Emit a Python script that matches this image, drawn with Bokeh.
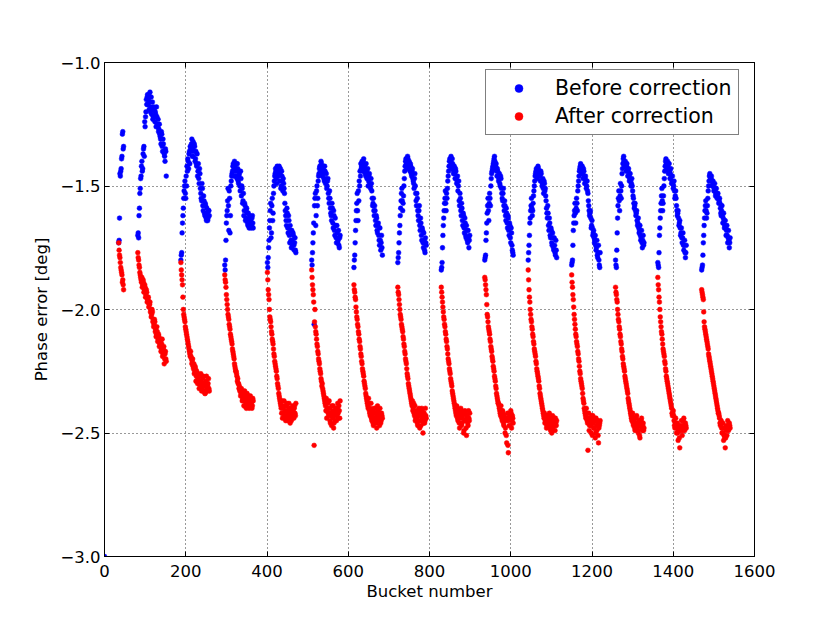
from bokeh.plotting import figure
from bokeh.models import (Range1d, FixedTicker, LinearAxis, CustomJSTickFormatter,
                          Legend, LegendItem, ColumnDataSource)
from bokeh.embed import file_html
from bokeh.resources import INLINE

# ---------------- data ----------------
x_ticks = [0, 200, 400, 600, 800, 1000, 1200, 1400, 1600]
y_ticks = [-3.0, -2.5, -2.0, -1.5, -1.0]

bunch_spacing = 2  # buckets between bunches of the same (even / odd) set
train_starts = [35, 82, 188, 296, 401, 510, 614, 722, 829, 936, 1043, 1150, 1258, 1362, 1470]

# even-numbered bunches of each train
before_T1 = [-1.73, -1.63, -1.46, -1.43, -1.38, -1.28, -1.34]
after_T1 = [-1.73, -1.78, -1.81, -1.84, -1.86, -1.88, -1.92]
before_T2 = [-1.70, -1.71, -1.59, -1.51, -1.46, -1.40, -1.43, -1.35, -1.38, -1.26, -1.20, -1.17, -1.13, -1.15, -1.19, -1.12, -1.18, -1.21, -1.16, -1.22, -1.19, -1.24, -1.21, -1.18, -1.25, -1.23, -1.27, -1.29, -1.31, -1.28, -1.34, -1.31, -1.36, -1.38, -1.35, -1.46]
after_T2 = [-1.77, -1.80, -1.83, -1.86, -1.88, -1.87, -1.90, -1.89, -1.92, -1.91, -1.94, -1.93, -1.96, -1.95, -1.98, -1.97, -2.00, -2.02, -2.01, -2.04, -2.06, -2.05, -2.08, -2.10, -2.09, -2.12, -2.11, -2.14, -2.13, -2.16, -2.12, -2.18, -2.15, -2.20, -2.17, -2.21]
before_T3 = [-1.80, -1.77, -1.65, -1.59, -1.52, -1.48, -1.55, -1.50, -1.44, -1.40, -1.37, -1.41, -1.35, -1.33, -1.38, -1.32, -1.36, -1.34, -1.39, -1.41, -1.37, -1.44, -1.47, -1.43, -1.51, -1.55, -1.49, -1.58, -1.54, -1.61, -1.57, -1.63, -1.59, -1.64, -1.60, -1.62]
after_T3 = [-1.81, -1.86, -1.90, -2.00, -2.03, -2.05, -2.08, -2.10, -2.12, -2.14, -2.16, -2.18, -2.17, -2.20, -2.21, -2.23, -2.22, -2.25, -2.24, -2.27, -2.26, -2.28, -2.30, -2.27, -2.31, -2.29, -2.32, -2.28, -2.33, -2.30, -2.34, -2.29, -2.32, -2.31, -2.28, -2.33]
before_T4 = [-1.82, -1.80, -1.65, -1.60, -1.51, -1.68, -1.55, -1.62, -1.48, -1.45, -1.42, -1.46, -1.40, -1.44, -1.41, -1.47, -1.43, -1.49, -1.45, -1.52, -1.47, -1.50, -1.57, -1.53, -1.60, -1.58, -1.63, -1.59, -1.65, -1.61, -1.67, -1.63, -1.64, -1.66, -1.62, -1.67]
after_T4 = [-1.86, -1.89, -1.94, -1.98, -2.02, -2.04, -2.07, -2.10, -2.12, -2.14, -2.17, -2.19, -2.22, -2.24, -2.25, -2.27, -2.28, -2.30, -2.31, -2.32, -2.34, -2.33, -2.36, -2.34, -2.37, -2.35, -2.38, -2.36, -2.39, -2.35, -2.40, -2.37, -2.38, -2.36, -2.39, -2.37]
before_T5 = [-1.81, -1.79, -1.72, -1.64, -1.57, -1.69, -1.55, -1.61, -1.50, -1.46, -1.43, -1.47, -1.42, -1.45, -1.44, -1.48, -1.43, -1.50, -1.46, -1.52, -1.49, -1.53, -1.60, -1.64, -1.59, -1.67, -1.62, -1.70, -1.66, -1.72, -1.68, -1.74, -1.70, -1.76, -1.71, -1.77]
after_T5 = [-1.85, -1.92, -1.96, -2.03, -2.05, -2.09, -2.12, -2.14, -2.18, -2.21, -2.23, -2.25, -2.28, -2.31, -2.34, -2.36, -2.38, -2.40, -2.37, -2.42, -2.39, -2.44, -2.41, -2.43, -2.38, -2.45, -2.42, -2.40, -2.46, -2.41, -2.44, -2.39, -2.43, -2.40, -2.42, -2.38]
before_T6 = [-1.80, -1.77, -1.69, -2.06, -1.55, -1.66, -1.52, -1.58, -1.48, -1.45, -1.42, -1.44, -1.41, -1.46, -1.43, -1.47, -1.42, -1.49, -1.45, -1.50, -1.47, -1.55, -1.52, -1.59, -1.62, -1.57, -1.65, -1.60, -1.68, -1.63, -1.71, -1.66, -1.73, -1.68, -1.75, -1.70]
after_T6 = [-1.84, -1.90, -1.94, -2.55, -2.00, -2.09, -2.12, -2.15, -2.18, -2.21, -2.24, -2.26, -2.29, -2.30, -2.33, -2.35, -2.37, -2.39, -2.36, -2.41, -2.38, -2.43, -2.40, -2.46, -2.42, -2.39, -2.44, -2.48, -2.41, -2.45, -2.40, -2.43, -2.38, -2.44, -2.41, -2.37]
before_T7 = [-1.83, -1.78, -1.68, -1.60, -1.53, -1.64, -1.56, -1.50, -1.46, -1.43, -1.40, -1.44, -1.39, -1.42, -1.45, -1.41, -1.47, -1.43, -1.48, -1.45, -1.50, -1.47, -1.52, -1.58, -1.55, -1.62, -1.60, -1.66, -1.63, -1.69, -1.65, -1.72, -1.67, -1.76, -1.70, -1.78]
after_T7 = [-1.90, -1.93, -1.96, -2.01, -2.04, -2.07, -2.10, -2.13, -2.16, -2.19, -2.22, -2.25, -2.27, -2.30, -2.32, -2.35, -2.37, -2.39, -2.36, -2.41, -2.43, -2.38, -2.45, -2.41, -2.47, -2.40, -2.44, -2.42, -2.48, -2.39, -2.45, -2.43, -2.40, -2.46, -2.42, -2.44]
before_T8 = [-1.81, -1.77, -1.69, -1.62, -1.56, -1.51, -1.60, -1.54, -1.47, -1.42, -1.39, -1.43, -1.38, -1.41, -1.40, -1.44, -1.42, -1.46, -1.43, -1.48, -1.51, -1.45, -1.53, -1.58, -1.55, -1.62, -1.60, -1.66, -1.63, -1.70, -1.67, -1.73, -1.69, -1.76, -1.71, -1.74]
after_T8 = [-1.91, -1.94, -1.98, -2.02, -2.04, -2.07, -2.09, -2.12, -2.15, -2.18, -2.21, -2.24, -2.27, -2.30, -2.32, -2.34, -2.36, -2.38, -2.37, -2.40, -2.42, -2.39, -2.44, -2.41, -2.46, -2.43, -2.40, -2.48, -2.42, -2.45, -2.41, -2.50, -2.43, -2.46, -2.40, -2.44]
before_T9 = [-1.84, -1.81, -1.70, -1.63, -1.57, -1.52, -1.60, -1.55, -1.48, -1.44, -1.40, -1.42, -1.38, -1.43, -1.41, -1.45, -1.42, -1.47, -1.44, -1.49, -1.46, -1.50, -1.56, -1.53, -1.60, -1.57, -1.64, -1.61, -1.67, -1.63, -1.70, -1.66, -1.72, -1.68, -1.75, -1.70]
after_T9 = [-1.91, -1.95, -1.99, -2.03, -2.06, -2.09, -2.12, -2.15, -2.18, -2.21, -2.24, -2.26, -2.29, -2.31, -2.34, -2.36, -2.38, -2.40, -2.42, -2.39, -2.44, -2.41, -2.46, -2.43, -2.40, -2.47, -2.44, -2.42, -2.49, -2.41, -2.45, -2.51, -2.43, -2.47, -2.44, -2.42]
before_T10 = [-1.80, -1.78, -1.69, -1.61, -1.55, -1.64, -1.53, -1.58, -1.47, -1.44, -1.42, -1.40, -1.38, -1.43, -1.41, -1.46, -1.44, -1.48, -1.45, -1.50, -1.47, -1.53, -1.56, -1.51, -1.60, -1.58, -1.64, -1.61, -1.67, -1.63, -1.70, -1.66, -1.73, -1.69, -1.76, -1.78]
after_T10 = [-1.87, -1.90, -1.94, -2.02, -2.05, -2.08, -2.10, -2.13, -2.16, -2.19, -2.21, -2.24, -2.27, -2.29, -2.32, -2.35, -2.37, -2.38, -2.40, -2.42, -2.39, -2.44, -2.41, -2.46, -2.43, -2.50, -2.45, -2.54, -2.42, -2.58, -2.47, -2.44, -2.41, -2.48, -2.43, -2.46]
before_T11 = [-1.80, -1.74, -1.65, -1.60, -1.55, -1.62, -1.57, -1.52, -1.48, -1.45, -1.43, -1.47, -1.42, -1.46, -1.44, -1.48, -1.45, -1.50, -1.47, -1.53, -1.49, -1.51, -1.56, -1.61, -1.58, -1.66, -1.63, -1.70, -1.67, -1.73, -1.69, -1.75, -1.71, -1.77, -1.72, -1.79]
after_T11 = [-1.84, -1.92, -1.97, -2.02, -2.05, -2.08, -2.11, -2.14, -2.17, -2.19, -2.22, -2.25, -2.27, -2.29, -2.32, -2.35, -2.37, -2.39, -2.41, -2.43, -2.42, -2.45, -2.43, -2.47, -2.44, -2.46, -2.42, -2.48, -2.45, -2.50, -2.43, -2.47, -2.44, -2.49, -2.46, -2.45]
before_T12 = [-1.82, -1.80, -1.68, -1.62, -1.57, -1.65, -1.55, -1.60, -1.50, -1.46, -1.43, -1.41, -1.45, -1.42, -1.47, -1.44, -1.49, -1.46, -1.51, -1.48, -1.53, -1.58, -1.62, -1.60, -1.67, -1.64, -1.70, -1.68, -1.73, -1.70, -1.76, -1.72, -1.79, -1.74, -1.82, -1.77]
after_T12 = [-1.86, -1.91, -1.96, -2.02, -2.06, -2.10, -2.13, -2.15, -2.18, -2.21, -2.25, -2.28, -2.30, -2.32, -2.36, -2.38, -2.41, -2.43, -2.40, -2.45, -2.57, -2.42, -2.47, -2.44, -2.50, -2.46, -2.43, -2.48, -2.45, -2.52, -2.44, -2.49, -2.46, -2.54, -2.47, -2.45]
before_T13 = [-1.80, -1.83, -1.69, -1.58, -1.52, -1.60, -1.49, -1.55, -1.45, -1.41, -1.38, -1.42, -1.40, -1.44, -1.41, -1.46, -1.43, -1.48, -1.45, -1.50, -1.47, -1.52, -1.55, -1.59, -1.57, -1.62, -1.60, -1.66, -1.63, -1.69, -1.66, -1.72, -1.68, -1.75, -1.70, -1.73]
after_T13 = [-1.91, -1.94, -1.97, -2.02, -2.05, -2.08, -2.11, -2.14, -2.17, -2.20, -2.23, -2.25, -2.28, -2.30, -2.32, -2.34, -2.37, -2.39, -2.41, -2.43, -2.45, -2.42, -2.47, -2.44, -2.49, -2.46, -2.43, -2.48, -2.50, -2.45, -2.52, -2.47, -2.44, -2.49, -2.46, -2.48]
before_T14 = [-1.81, -1.83, -1.70, -1.63, -1.57, -1.51, -1.60, -1.54, -1.47, -1.42, -1.39, -1.43, -1.40, -1.45, -1.41, -1.47, -1.43, -1.49, -1.46, -1.51, -1.48, -1.55, -1.52, -1.58, -1.62, -1.60, -1.66, -1.64, -1.70, -1.67, -1.73, -1.69, -1.76, -1.72, -1.79, -1.74]
after_T14 = [-1.87, -1.92, -1.97, -2.03, -2.07, -2.10, -2.14, -2.17, -2.19, -2.22, -2.25, -2.28, -2.30, -2.32, -2.34, -2.36, -2.38, -2.40, -2.43, -2.41, -2.45, -2.48, -2.44, -2.50, -2.46, -2.53, -2.47, -2.56, -2.49, -2.45, -2.51, -2.47, -2.44, -2.49, -2.46, -2.48]
before_T15 = [-1.84, -1.82, -1.73, -1.66, -1.60, -1.56, -1.63, -1.58, -1.52, -1.48, -1.45, -1.47, -1.46, -1.50, -1.48, -1.52, -1.49, -1.54, -1.51, -1.55, -1.53, -1.57, -1.55, -1.59, -1.62, -1.58, -1.65, -1.61, -1.67, -1.64, -1.70, -1.66, -1.73, -1.68, -1.75, -1.71]
after_T15 = [-1.92, -1.94, -1.96, -2.05, -2.08, -2.10, -2.12, -2.14, -2.16, -2.19, -2.21, -2.23, -2.25, -2.27, -2.29, -2.31, -2.33, -2.35, -2.37, -2.39, -2.41, -2.42, -2.44, -2.47, -2.45, -2.50, -2.46, -2.53, -2.48, -2.56, -2.47, -2.51, -2.45, -2.49, -2.46, -2.48]

# odd-numbered bunches of each train
before_T1_odd = [-1.72, -1.45, -1.44, -1.39, -1.29, -1.35]
after_T1_odd = [-1.76, -1.79, -1.83, -1.85, -1.89, -1.90]
before_T2_odd = [-1.69, -1.62, -1.53, -1.47, -1.42, -1.44, -1.37, -1.34, -1.24, -1.22, -1.15, -1.14, -1.17, -1.13, -1.16, -1.20, -1.14, -1.19, -1.23, -1.18, -1.22, -1.20, -1.26, -1.22, -1.26, -1.28, -1.25, -1.30, -1.33, -1.29, -1.36, -1.33, -1.37, -1.40, -1.36]
after_T2_odd = [-1.79, -1.82, -1.85, -1.87, -1.89, -1.91, -1.88, -1.93, -1.90, -1.95, -1.92, -1.97, -1.96, -1.99, -1.98, -2.01, -2.03, -2.00, -2.05, -2.07, -2.04, -2.09, -2.11, -2.07, -2.13, -2.10, -2.15, -2.12, -2.17, -2.14, -2.19, -2.16, -2.22, -2.18, -2.20]
before_T3_odd = [-1.78, -1.69, -1.62, -1.55, -1.50, -1.53, -1.46, -1.42, -1.39, -1.43, -1.36, -1.34, -1.36, -1.31, -1.35, -1.38, -1.33, -1.40, -1.36, -1.42, -1.46, -1.41, -1.49, -1.45, -1.53, -1.56, -1.51, -1.60, -1.56, -1.62, -1.58, -1.64, -1.61, -1.63, -1.60]
after_T3_odd = [-1.84, -1.88, -1.95, -2.02, -2.04, -2.07, -2.09, -2.11, -2.13, -2.15, -2.17, -2.19, -2.19, -2.22, -2.20, -2.24, -2.26, -2.23, -2.29, -2.25, -2.30, -2.27, -2.32, -2.29, -2.26, -2.33, -2.30, -2.27, -2.31, -2.34, -2.30, -2.27, -2.33, -2.30, -2.32]
before_T4_odd = [-1.84, -1.72, -1.62, -1.56, -1.58, -1.52, -1.69, -1.50, -1.46, -1.44, -1.41, -1.43, -1.42, -1.46, -1.44, -1.41, -1.48, -1.46, -1.50, -1.44, -1.54, -1.51, -1.56, -1.62, -1.57, -1.64, -1.60, -1.61, -1.66, -1.64, -1.62, -1.65, -1.67, -1.63, -1.65]
after_T4_odd = [-1.88, -1.91, -1.96, -2.00, -2.03, -2.06, -2.08, -2.11, -2.13, -2.16, -2.18, -2.20, -2.23, -2.25, -2.26, -2.29, -2.30, -2.32, -2.33, -2.35, -2.32, -2.37, -2.35, -2.39, -2.33, -2.37, -2.40, -2.34, -2.38, -2.36, -2.39, -2.35, -2.38, -2.40, -2.36]
before_T5_odd = [-1.83, -1.75, -1.67, -1.60, -1.71, -1.58, -1.64, -1.53, -1.48, -1.45, -1.44, -1.49, -1.43, -1.46, -1.42, -1.45, -1.51, -1.44, -1.48, -1.47, -1.51, -1.57, -1.62, -1.66, -1.61, -1.69, -1.64, -1.73, -1.68, -1.75, -1.72, -1.69, -1.74, -1.73, -1.76]
after_T5_odd = [-1.88, -1.94, -2.00, -2.04, -2.07, -2.10, -2.13, -2.16, -2.19, -2.22, -2.24, -2.27, -2.30, -2.32, -2.35, -2.37, -2.39, -2.42, -2.44, -2.40, -2.37, -2.43, -2.45, -2.39, -2.41, -2.44, -2.38, -2.43, -2.40, -2.45, -2.42, -2.41, -2.44, -2.39, -2.43]
before_T6_odd = [-1.82, -1.73, -1.65, -1.58, -1.53, -1.62, -1.50, -1.55, -1.46, -1.43, -1.45, -1.40, -1.44, -1.42, -1.45, -1.48, -1.44, -1.47, -1.51, -1.48, -1.53, -1.57, -1.55, -1.61, -1.64, -1.59, -1.67, -1.62, -1.70, -1.66, -1.73, -1.69, -1.72, -1.74, -1.71]
after_T6_odd = [-1.87, -1.92, -1.97, -2.05, -2.07, -2.10, -2.14, -2.17, -2.20, -2.22, -2.25, -2.28, -2.31, -2.32, -2.34, -2.36, -2.38, -2.41, -2.44, -2.40, -2.42, -2.37, -2.45, -2.43, -2.47, -2.41, -2.39, -2.46, -2.43, -2.42, -2.45, -2.40, -2.42, -2.39, -2.44]
before_T7_odd = [-1.80, -1.73, -1.64, -1.57, -1.60, -1.52, -1.48, -1.44, -1.41, -1.42, -1.41, -1.40, -1.44, -1.43, -1.46, -1.44, -1.45, -1.50, -1.46, -1.49, -1.51, -1.49, -1.55, -1.57, -1.60, -1.58, -1.64, -1.62, -1.68, -1.66, -1.70, -1.74, -1.72, -1.73, -1.75]
after_T7_odd = [-1.92, -1.95, -1.99, -2.03, -2.06, -2.09, -2.12, -2.15, -2.18, -2.21, -2.24, -2.26, -2.29, -2.31, -2.34, -2.36, -2.38, -2.40, -2.38, -2.42, -2.40, -2.44, -2.43, -2.46, -2.42, -2.45, -2.40, -2.46, -2.43, -2.41, -2.44, -2.47, -2.42, -2.45, -2.43]
before_T8_odd = [-1.79, -1.73, -1.66, -1.59, -1.53, -1.56, -1.57, -1.50, -1.44, -1.40, -1.41, -1.40, -1.39, -1.42, -1.43, -1.41, -1.45, -1.44, -1.47, -1.49, -1.47, -1.50, -1.56, -1.53, -1.60, -1.64, -1.58, -1.68, -1.65, -1.72, -1.68, -1.75, -1.72, -1.77, -1.73]
after_T8_odd = [-1.93, -1.96, -2.00, -2.03, -2.06, -2.08, -2.11, -2.14, -2.17, -2.20, -2.22, -2.26, -2.28, -2.31, -2.33, -2.35, -2.37, -2.39, -2.41, -2.38, -2.43, -2.45, -2.42, -2.44, -2.47, -2.41, -2.45, -2.43, -2.47, -2.40, -2.44, -2.46, -2.42, -2.45, -2.43]
before_T9_odd = [-1.83, -1.75, -1.66, -1.60, -1.55, -1.57, -1.53, -1.51, -1.46, -1.42, -1.39, -1.40, -1.41, -1.39, -1.43, -1.44, -1.45, -1.43, -1.47, -1.48, -1.52, -1.48, -1.58, -1.55, -1.62, -1.59, -1.66, -1.62, -1.69, -1.65, -1.71, -1.68, -1.73, -1.71, -1.72]
after_T9_odd = [-1.93, -1.97, -2.01, -2.04, -2.07, -2.10, -2.13, -2.16, -2.20, -2.22, -2.25, -2.28, -2.30, -2.33, -2.35, -2.37, -2.39, -2.41, -2.43, -2.40, -2.45, -2.42, -2.48, -2.44, -2.41, -2.46, -2.43, -2.50, -2.45, -2.42, -2.48, -2.44, -2.46, -2.41, -2.45]
before_T10_odd = [-1.79, -1.72, -1.65, -1.58, -1.60, -1.57, -1.55, -1.50, -1.45, -1.43, -1.41, -1.39, -1.40, -1.42, -1.44, -1.43, -1.46, -1.47, -1.49, -1.46, -1.51, -1.55, -1.53, -1.58, -1.56, -1.62, -1.59, -1.65, -1.62, -1.68, -1.65, -1.71, -1.67, -1.74, -1.77]
after_T10_odd = [-1.88, -1.92, -1.98, -2.03, -2.07, -2.09, -2.12, -2.15, -2.17, -2.20, -2.23, -2.25, -2.28, -2.31, -2.34, -2.36, -2.38, -2.39, -2.41, -2.43, -2.41, -2.45, -2.42, -2.47, -2.44, -2.48, -2.51, -2.44, -2.55, -2.45, -2.43, -2.47, -2.42, -2.45, -2.44]
before_T11_odd = [-1.77, -1.70, -1.63, -1.58, -1.59, -1.60, -1.54, -1.50, -1.46, -1.44, -1.45, -1.44, -1.43, -1.45, -1.46, -1.44, -1.48, -1.49, -1.51, -1.48, -1.52, -1.54, -1.59, -1.63, -1.61, -1.68, -1.65, -1.71, -1.68, -1.74, -1.71, -1.76, -1.74, -1.78, -1.76]
after_T11_odd = [-1.88, -1.95, -2.00, -2.04, -2.07, -2.10, -2.13, -2.16, -2.18, -2.21, -2.24, -2.26, -2.28, -2.31, -2.34, -2.36, -2.38, -2.40, -2.42, -2.44, -2.46, -2.44, -2.48, -2.45, -2.43, -2.47, -2.45, -2.49, -2.44, -2.46, -2.48, -2.45, -2.47, -2.44, -2.47]
before_T12_odd = [-1.81, -1.74, -1.65, -1.60, -1.61, -1.59, -1.57, -1.52, -1.48, -1.44, -1.42, -1.43, -1.44, -1.45, -1.43, -1.46, -1.47, -1.48, -1.50, -1.52, -1.56, -1.60, -1.61, -1.63, -1.66, -1.67, -1.69, -1.71, -1.72, -1.74, -1.75, -1.78, -1.77, -1.80, -1.83]
after_T12_odd = [-1.89, -1.94, -1.99, -2.04, -2.08, -2.11, -2.14, -2.17, -2.20, -2.23, -2.26, -2.29, -2.31, -2.34, -2.37, -2.40, -2.42, -2.44, -2.42, -2.46, -2.44, -2.49, -2.45, -2.47, -2.43, -2.51, -2.46, -2.48, -2.44, -2.50, -2.47, -2.45, -2.51, -2.48, -2.46]
before_T13_odd = [-1.82, -1.76, -1.63, -1.55, -1.56, -1.54, -1.52, -1.50, -1.43, -1.39, -1.40, -1.41, -1.42, -1.42, -1.44, -1.44, -1.46, -1.47, -1.48, -1.49, -1.50, -1.54, -1.57, -1.58, -1.60, -1.61, -1.64, -1.65, -1.67, -1.68, -1.70, -1.71, -1.73, -1.72, -1.74]
after_T13_odd = [-1.93, -1.96, -2.00, -2.04, -2.07, -2.10, -2.13, -2.16, -2.19, -2.22, -2.24, -2.27, -2.29, -2.31, -2.33, -2.36, -2.38, -2.40, -2.42, -2.44, -2.43, -2.46, -2.45, -2.48, -2.47, -2.44, -2.46, -2.49, -2.47, -2.51, -2.46, -2.45, -2.48, -2.47, -2.49]
before_T14_odd = [-1.82, -1.77, -1.67, -1.60, -1.54, -1.56, -1.57, -1.50, -1.44, -1.40, -1.41, -1.42, -1.43, -1.43, -1.44, -1.45, -1.46, -1.48, -1.49, -1.50, -1.52, -1.54, -1.55, -1.60, -1.61, -1.63, -1.65, -1.67, -1.69, -1.71, -1.71, -1.74, -1.74, -1.77, -1.77]
after_T14_odd = [-1.90, -1.95, -2.00, -2.05, -2.09, -2.12, -2.16, -2.18, -2.21, -2.24, -2.27, -2.29, -2.31, -2.33, -2.35, -2.37, -2.39, -2.42, -2.42, -2.43, -2.47, -2.46, -2.47, -2.48, -2.50, -2.49, -2.52, -2.48, -2.47, -2.48, -2.49, -2.45, -2.47, -2.48, -2.47]
before_T15_odd = [-1.83, -1.78, -1.70, -1.63, -1.58, -1.60, -1.61, -1.55, -1.50, -1.46, -1.46, -1.47, -1.48, -1.49, -1.50, -1.51, -1.52, -1.53, -1.53, -1.54, -1.55, -1.56, -1.57, -1.61, -1.60, -1.62, -1.63, -1.64, -1.66, -1.67, -1.68, -1.70, -1.71, -1.72, -1.73]
after_T15_odd = [-1.93, -1.95, -2.01, -2.07, -2.09, -2.11, -2.13, -2.15, -2.18, -2.20, -2.22, -2.24, -2.26, -2.28, -2.30, -2.32, -2.34, -2.36, -2.38, -2.40, -2.42, -2.43, -2.46, -2.46, -2.48, -2.48, -2.50, -2.51, -2.52, -2.52, -2.49, -2.48, -2.47, -2.48, -2.47]

extra_bucket = [0]
extra_before = [-3.0]

before_even = [before_T1, before_T2, before_T3, before_T4, before_T5, before_T6, before_T7, before_T8,
               before_T9, before_T10, before_T11, before_T12, before_T13, before_T14, before_T15]
after_even = [after_T1, after_T2, after_T3, after_T4, after_T5, after_T6, after_T7, after_T8,
              after_T9, after_T10, after_T11, after_T12, after_T13, after_T14, after_T15]
before_odd = [before_T1_odd, before_T2_odd, before_T3_odd, before_T4_odd, before_T5_odd, before_T6_odd,
              before_T7_odd, before_T8_odd, before_T9_odd, before_T10_odd, before_T11_odd, before_T12_odd,
              before_T13_odd, before_T14_odd, before_T15_odd]
after_odd = [after_T1_odd, after_T2_odd, after_T3_odd, after_T4_odd, after_T5_odd, after_T6_odd,
             after_T7_odd, after_T8_odd, after_T9_odd, after_T10_odd, after_T11_odd, after_T12_odd,
             after_T13_odd, after_T14_odd, after_T15_odd]

bx, by, axs, ays = list(extra_bucket), list(extra_before), [], []
for offset, blist, alist in ((0, before_even, after_even), (1, before_odd, after_odd)):
    for start, bvals, avals in zip(train_starts, blist, alist):
        for i, v in enumerate(bvals):
            bx.append(start + offset + bunch_spacing * i)
            by.append(v)
        for i, v in enumerate(avals):
            axs.append(start + offset + bunch_spacing * i)
            ays.append(v)

# ---------------- figure ----------------
FONT = "DejaVu Sans"
W, H = 820, 612
p = figure(width=W, height=H, output_backend="svg", toolbar_location=None,
           x_range=Range1d(0, 1600), y_range=Range1d(-3.0, -1.0),
           min_border_left=104, min_border_right=W - 754, min_border_top=62, min_border_bottom=H - 556)
p.background_fill_color = "white"
p.border_fill_color = "white"
p.outline_line_color = "black"
p.outline_line_width = 1

fmt_x = CustomJSTickFormatter(code="return tick.toFixed(0);")
fmt_y = CustomJSTickFormatter(code="return (tick < 0 ? '\u2212' : '') + Math.abs(tick).toFixed(1);")
blank = CustomJSTickFormatter(code="return '';")

for axis, ticks, fmt in ((p.xaxis[0], x_ticks, fmt_x), (p.yaxis[0], y_ticks, fmt_y)):
    axis.ticker = FixedTicker(ticks=ticks)
    axis.formatter = fmt
    axis.major_label_text_font = FONT
    axis.major_label_text_font_size = "16.5px"
    axis.major_label_text_color = "black"
    axis.axis_label_text_font = FONT
    axis.axis_label_text_font_size = "16.5px"
    axis.axis_label_text_font_style = "normal"
    axis.axis_label_text_color = "black"
    axis.axis_line_color = "black"
    axis.major_tick_line_color = "black"
    axis.major_tick_in = 5
    axis.major_tick_out = 0
    axis.minor_tick_line_color = None

p.xaxis.axis_label = "Bucket number"
p.yaxis.axis_label = "Phase error [deg]"
p.xaxis.major_label_standoff = 8
p.xaxis.axis_label_standoff = 2
p.yaxis.major_label_standoff = 4
p.yaxis.axis_label_standoff = 6

top = LinearAxis(ticker=FixedTicker(ticks=x_ticks), formatter=blank, major_tick_in=5, major_tick_out=0,
                 minor_tick_line_color=None, axis_line_color="black", major_tick_line_color="black")
right = LinearAxis(ticker=FixedTicker(ticks=y_ticks), formatter=blank, major_tick_in=5, major_tick_out=0,
                   minor_tick_line_color=None, axis_line_color="black", major_tick_line_color="black")
p.add_layout(top, "above")
p.add_layout(right, "right")

for g, ticks in ((p.xgrid[0], x_ticks), (p.ygrid[0], y_ticks)):
    g.ticker = FixedTicker(ticks=ticks)
    g.grid_line_color = "black"
    g.grid_line_alpha = 0.8
    g.grid_line_width = 1
    g.grid_line_dash = "1 3"

src_b = ColumnDataSource(dict(x=bx, y=by))
src_a = ColumnDataSource(dict(x=axs, y=ays))
rb = p.scatter("x", "y", source=src_b, size=4.8, marker="circle", fill_color="#0000ff",
               line_color="#0000ff", line_width=0.5)
ra = p.scatter("x", "y", source=src_a, size=4.8, marker="circle", fill_color="#ff0000",
               line_color="#ff0000", line_width=0.5)

legend = Legend(items=[LegendItem(label="Before correction", renderers=[rb]),
                       LegendItem(label="After correction", renderers=[ra])],
                location=(381, 421), padding=6, spacing=4,
                glyph_width=53, glyph_height=20, label_standoff=10,
                label_text_font=FONT, label_text_font_size="20.5px", label_text_color="black",
                border_line_color="black", border_line_width=1,
                background_fill_color="white", background_fill_alpha=1.0)
p.add_layout(legend)

open("out.html", "w").write(file_html(p, INLINE))
